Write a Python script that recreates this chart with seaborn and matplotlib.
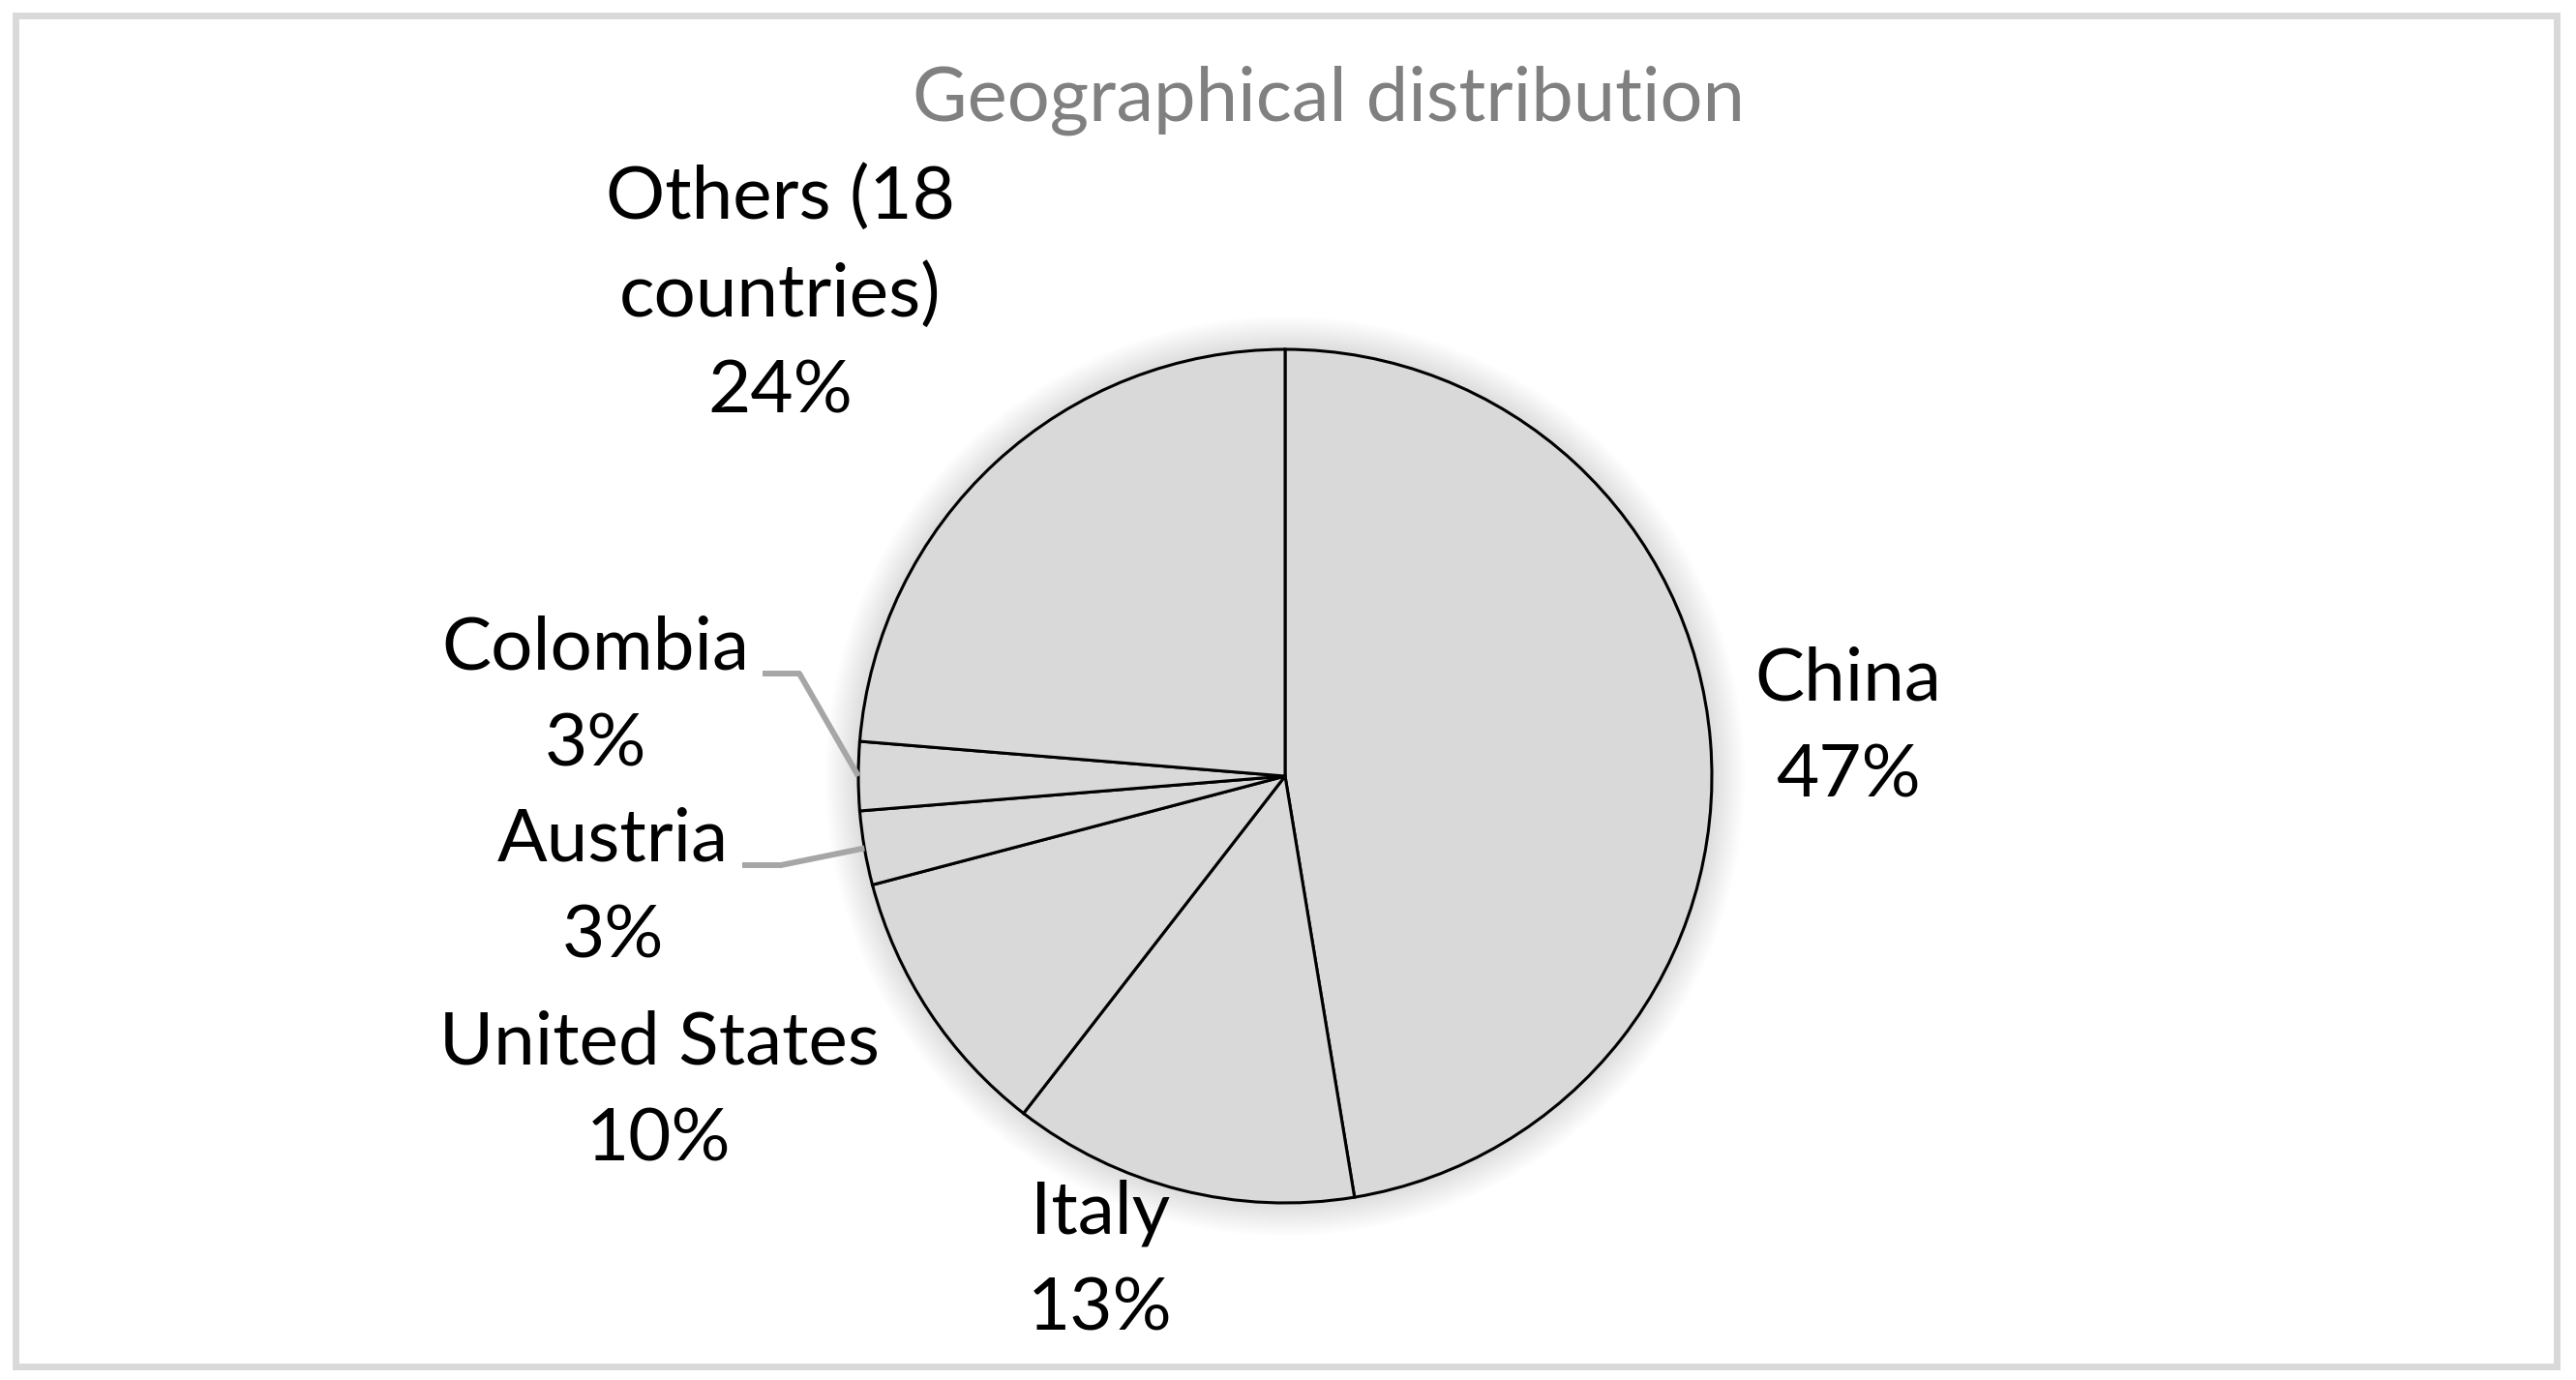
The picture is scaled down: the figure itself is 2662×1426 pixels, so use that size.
import numpy as np
import seaborn as sns
from matplotlib import pyplot as plt
from matplotlib.patches import Circle, Rectangle

countries = ['China', 'Italy', 'United States', 'Austria', 'Colombia', 'Others (18\ncountries)']
shares = [47.4, 13.1, 10.4, 2.8, 2.6, 23.7]
title = 'Geographical distribution'

sns.set_theme(style='white')
plt.rcParams['font.family'] = ['Lato', 'DejaVu Sans']

W, H = 2662, 1426
fig = plt.figure(figsize=(W / 100, H / 100), dpi=100)
ax = fig.add_axes([0, 0, 1, 1])

def Y(y):
    return H - y

cx, cy, r = 1328, Y(802), 441

# soft glow behind the pie
for k in range(18):
    ax.add_patch(Circle((cx, cy), r + 2 * k, color='#8c8c8c', alpha=0.014, lw=0, zorder=0))

wedges, _ = ax.pie(shares, startangle=90, counterclock=False, center=(cx, cy), radius=r,
                   colors=['#d9d9d9'] * len(shares),
                   wedgeprops=dict(edgecolor='black', linewidth=2.2), frame=True)
ax.set_xlim(0, W)
ax.set_ylim(0, H)
ax.set_aspect('equal')
ax.set_axis_off()
for w in wedges:
    w.set_zorder(2)

label_pos = {
    'China': (1910, 752),
    'Italy': (1137, 1303),
    'United States': (681, 1128),
    'Austria': (633, 918),
    'Colombia': (615, 720),
    'Others (18\ncountries)': (806, 304),
}
for name, val in zip(countries, shares):
    x, y = label_pos[name]
    ax.text(x, Y(y), f'{name}\n{round(val)}%', ha='center', va='center', fontsize=55,
            color='black', linespacing=1.55, zorder=3)

# leader lines for the small slices
elbows = {'Colombia': [(788, 696), (826, 696)], 'Austria': [(767, 894), (807, 894)]}
for name, w in zip(countries, wedges):
    if name in elbows:
        mid = np.deg2rad((w.theta1 + w.theta2) / 2)
        ex, ey = cx + r * np.cos(mid), cy + r * np.sin(mid)
        pts = [(x, Y(y)) for x, y in elbows[name]] + [(ex, ey)]
        ax.plot([p[0] for p in pts], [p[1] for p in pts], color='#a6a6a6', lw=4.3,
                solid_capstyle='butt', zorder=3)

ax.text(1373, Y(104), title, ha='center', va='center', fontsize=56, color='#808080')

ax.add_patch(Rectangle((16, Y(1412)), 2626, 1396, fill=False, edgecolor='#d9d9d9', lw=5, zorder=4))

fig.savefig('out.png', dpi=100)
